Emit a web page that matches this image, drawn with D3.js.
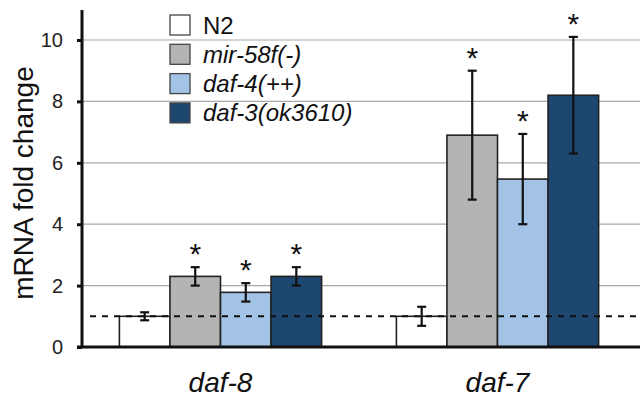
<!DOCTYPE html>
<html>
<head>
<meta charset="utf-8">
<script src="https://cdn.jsdelivr.net/npm/d3@7"></script>
<style>
  body { margin: 0; background: #fff; }
  text { font-family: "Liberation Sans", Arial, sans-serif; }
</style>
</head>
<body>
<svg width="640" height="400"></svg>
<script>
// Data
const genes = ["daf-8", "daf-7"];
const strains = ["N2", "mir-58f(-)", "daf-4(++)", "daf-3(ok3610)"];
const italicStrain = [false, true, true, true];
const colors = ["#ffffff", "#b4b4b4", "#a2c3e5", "#1e4770"];
const means = [
    [1.0, 2.3, 1.78, 2.3],   // daf-8
    [1.0, 6.9, 5.47, 8.2]    // daf-7
];
const errors = [
    [0.13, 0.3, 0.3, 0.3],
    [0.31, 2.1, 1.47, 1.9]
];
const significant = [
    [false, true, true, true],
    [false, true, true, true]
];
const yTicks = [0, 2, 4, 6, 8, 10];

const width = 640;
const height = 400;
const margin = { top: 10, right: 0, bottom: 53, left: 82 };

const svg = d3.select("svg")
    .attr("width", width)
    .attr("height", height);

const y = d3.scaleLinear()
    .domain([0, 11])
    .range([height - margin.bottom, height - margin.bottom - 11 * 30.7]);

const x0 = d3.scaleBand()
    .domain(genes)
    .range([margin.left, 636])
    .paddingInner(0.27)
    .paddingOuter(0.135);

const x1 = d3.scaleBand()
    .domain(strains)
    .range([0, x0.bandwidth()]);

// gridlines
svg.append("g")
    .selectAll("line")
    .data(yTicks.filter(d => d > 0))
    .enter().append("line")
    .attr("x1", margin.left)
    .attr("x2", width)
    .attr("y1", d => y(d))
    .attr("y2", d => y(d))
    .attr("stroke", "#a8a8a8")
    .attr("stroke-width", 1.2);

// legend
const legend = svg.append("g");
strains.forEach(function(s, i) {
    const row = legend.append("g").attr("transform", "translate(170," + (15 + i * 29.3) + ")");
    row.append("rect")
        .attr("width", 20)
        .attr("height", 20)
        .attr("fill", colors[i])
        .attr("stroke", "#444")
        .attr("stroke-width", 1.3);
    row.append("text")
        .attr("x", 33)
        .attr("y", 18.5)
        .attr("font-size", 24)
        .attr("font-style", italicStrain[i] ? "italic" : "normal")
        .attr("fill", "#111")
        .text(s);
});

// bars
const groups = svg.append("g")
    .selectAll("g")
    .data(genes)
    .enter().append("g")
    .attr("transform", d => "translate(" + x0(d) + ",0)");

groups.selectAll("rect")
    .data((g, gi) => strains.map((s, si) => ({ s: s, si: si, v: means[gi][si] })))
    .enter().append("rect")
    .attr("x", d => x1(d.s))
    .attr("y", d => y(d.v))
    .attr("width", x1.bandwidth())
    .attr("height", d => y(0) - y(d.v))
    .attr("fill", d => colors[d.si])
    .attr("stroke", "#222")
    .attr("stroke-width", 1.6);

// dashed reference line at 1
svg.append("line")
    .attr("x1", 90)
    .attr("x2", width)
    .attr("y1", y(1))
    .attr("y2", y(1))
    .attr("stroke", "#111")
    .attr("stroke-width", 2)
    .attr("stroke-dasharray", "6,6");

// error bars + stars
groups.each(function(g, gi) {
    const grp = d3.select(this);
    strains.forEach(function(s, si) {
        const cx = x1(s) + x1.bandwidth() / 2;
        const v = means[gi][si], e = errors[gi][si];
        const eb = grp.append("g").attr("stroke", "#111").attr("stroke-width", 2.2);
        eb.append("line").attr("x1", cx).attr("x2", cx).attr("y1", y(v + e)).attr("y2", y(v - e));
        eb.append("line").attr("x1", cx - 4.5).attr("x2", cx + 4.5).attr("y1", y(v + e)).attr("y2", y(v + e));
        eb.append("line").attr("x1", cx - 4.5).attr("x2", cx + 4.5).attr("y1", y(v - e)).attr("y2", y(v - e));
        if (significant[gi][si]) {
            grp.append("text")
                .attr("x", cx)
                .attr("y", y(v + e) - 3)
                .attr("text-anchor", "middle")
                .attr("font-size", 30)
                .attr("fill", "#111")
                .text("*");
        }
    });
});

// y axis
const yAxis = svg.append("g")
    .attr("transform", "translate(" + margin.left + ",0)")
    .call(d3.axisLeft(y).tickValues(yTicks).tickSize(5).tickPadding(14));
yAxis.select(".domain")
    .attr("d", "M-0," + y(0) + "V" + margin.top)
    .attr("stroke", "#111")
    .attr("stroke-width", 3);
yAxis.selectAll(".tick line").attr("stroke", "#111").attr("stroke-width", 3);
yAxis.selectAll(".tick text")
    .attr("font-size", 20)
    .attr("fill", "#222")
    .style("font-family", "Liberation Sans, Arial, sans-serif");

// x axis line
svg.append("line")
    .attr("x1", margin.left - 5)
    .attr("x2", width)
    .attr("y1", y(0))
    .attr("y2", y(0))
    .attr("stroke", "#111")
    .attr("stroke-width", 3);

// category labels
svg.append("g")
    .selectAll("text")
    .data(genes)
    .enter().append("text")
    .attr("x", d => x0(d) + x0.bandwidth() / 2)
    .attr("y", 392)
    .attr("text-anchor", "middle")
    .attr("font-size", 28)
    .attr("font-style", "italic")
    .attr("fill", "#111")
    .text(d => d);

// y axis title
svg.append("text")
    .attr("transform", "translate(33," + 183 + ") rotate(-90)")
    .attr("text-anchor", "middle")
    .attr("font-size", 28)
    .attr("fill", "#111")
    .text("mRNA fold change");
</script>
</body>
</html>
